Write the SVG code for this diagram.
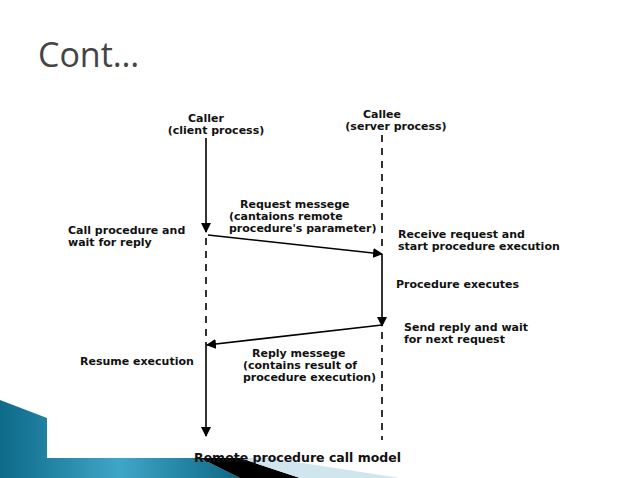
<svg xmlns="http://www.w3.org/2000/svg" width="638" height="478" viewBox="0 0 638 478">
<defs>
<linearGradient id="g" x1="0" y1="0" x2="1" y2="0"><stop offset="0" stop-color="#0e6a88"/><stop offset="0.5" stop-color="#3fa6c8"/><stop offset="1" stop-color="#0d6784"/></linearGradient>
<marker id="a" viewBox="0 0 10 10" refX="9" refY="5" markerWidth="10" markerHeight="10" markerUnits="userSpaceOnUse" orient="auto"><path d="M0,0 L10,5 L0,10 Z" fill="#000"/></marker>
<style>
text{font-family:"DejaVu Sans",sans-serif;font-weight:bold;font-size:11px;fill:#111}
.s{stroke:#000;stroke-width:1.6;fill:none}
.d{stroke:#000;stroke-width:1.6;stroke-dasharray:7,6;fill:none}
</style>
</defs>
<rect width="638" height="478" fill="#fff"/>
<g id="decor">
<polygon points="0,400 47,418 47,458 200,458 240,478 0,478" fill="url(#g)"/>
<polygon points="200,458 240,458 300,478 240,478" fill="#000"/>
<polygon points="240,458 270,458 400,478 300,478" fill="#cfe6ef"/>
</g>
<text x="38" y="67" style="font-family:'Open Sans','DejaVu Sans',sans-serif;font-weight:normal;font-size:34px;fill:#444">Cont…</text>
<g id="connectors">
<line class="s" x1="206" y1="138" x2="206" y2="232" marker-end="url(#a)"/>
<line class="d" x1="206" y1="238" x2="206" y2="345"/>
<line class="s" x1="208" y1="235" x2="382" y2="254" marker-end="url(#a)"/>
<line class="d" x1="382" y1="135" x2="382" y2="250"/>
<line class="s" x1="382" y1="254" x2="382" y2="326" marker-end="url(#a)"/>
<line class="s" x1="382" y1="325" x2="207" y2="345" marker-end="url(#a)"/>
<line class="d" x1="382" y1="332" x2="382" y2="440"/>
<line class="s" x1="206" y1="345" x2="206" y2="436" marker-end="url(#a)"/>
</g>
<g id="caller"><text x="206" y="122" text-anchor="middle">Caller</text><text x="216" y="134" text-anchor="middle">(client process)</text></g>
<g id="callee"><text x="382" y="118" text-anchor="middle">Callee</text><text x="396" y="130" text-anchor="middle">(server process)</text></g>
<g id="req"><text x="240" y="208">Request messege</text><text x="229" y="220">(cantaions remote</text><text x="229" y="232">procedure's parameter)</text></g>
<g id="call"><text x="68" y="234">Call procedure and</text><text x="68" y="246">wait for reply</text></g>
<g id="recv"><text x="398" y="238">Receive request and</text><text x="398" y="250">start procedure execution</text></g>
<g id="exec"><text x="396" y="288">Procedure executes</text></g>
<g id="send"><text x="404" y="331">Send reply and wait</text><text x="404" y="343">for next request</text></g>
<g id="resume"><text x="80" y="365">Resume execution</text></g>
<g id="reply"><text x="252" y="357">Reply messege</text><text x="243" y="369">(contains result of</text><text x="243" y="381">procedure execution)</text></g>
<g id="caption"><text x="194" y="462" style="font-size:12.5px">Remote procedure call model</text></g>
</svg>
